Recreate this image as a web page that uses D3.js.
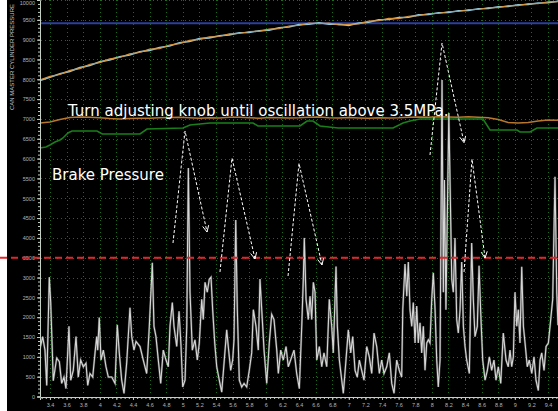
<!DOCTYPE html>
<html>
<head>
<meta charset="utf-8">
<script src="https://cdn.jsdelivr.net/npm/d3@7"></script>
<style>
html, body { margin: 0; padding: 0; background: #000; }
svg { display: block; }
</style>
</head>
<body>
<svg id="chart"></svg>
<script>
let width = 558, height = 411;

// tick values / labels
let xTicks = [3.4, 3.6, 3.8, 4, 4.2, 4.4, 4.6, 4.8, 5, 5.2, 5.4, 5.6, 5.8, 6, 6.2, 6.4, 6.6, 6.8, 7, 7.2, 7.4, 7.6, 7.8, 8, 8.2, 8.4, 8.6, 8.8, 9, 9.2, 9.4];
let yTicks = [0, 500, 1000, 1500, 2000, 2500, 3000, 3500, 4000, 4500, 5000, 5500, 6000, 6500, 7000, 7500, 8000, 8500, 9000, 9500, 10000];

// rising master cylinder traces (sampled every 0.12 s)
let masterTime = [3.28, 3.40, 3.52, 3.64, 3.76, 3.88, 4.00, 4.12, 4.24, 4.36, 4.48, 4.60, 4.72, 4.84, 4.96, 5.08, 5.20, 5.32, 5.44, 5.56, 5.68, 5.80, 5.92, 6.04, 6.16, 6.28, 6.40, 6.52, 6.64, 6.76, 6.88, 7.00, 7.12, 7.24, 7.36, 7.48, 7.60, 7.72, 7.84, 7.96, 8.08, 8.20, 8.32, 8.44, 8.56, 8.68, 8.80, 8.92, 9.04, 9.16, 9.28, 9.40, 9.52];
let masterOrange = [7982, 8075, 8120, 8225, 8270, 8380, 8420, 8515, 8550, 8640, 8675, 8760, 8775, 8865, 8900, 8980, 9005, 9070, 9080, 9145, 9155, 9205, 9210, 9265, 9280, 9345, 9360, 9420, 9405, 9415, 9370, 9385, 9400, 9465, 9480, 9535, 9530, 9590, 9605, 9660, 9660, 9710, 9710, 9760, 9760, 9810, 9810, 9860, 9860, 9910, 9905, 9955, 9960];
let masterCyan = [7970, 8050, 8140, 8200, 8295, 8350, 8445, 8490, 8570, 8615, 8695, 8730, 8800, 8840, 8920, 8955, 9025, 9045, 9100, 9120, 9175, 9180, 9225, 9240, 9300, 9320, 9380, 9390, 9425, 9390, 9390, 9360, 9420, 9440, 9500, 9510, 9555, 9565, 9625, 9635, 9680, 9685, 9730, 9735, 9780, 9785, 9830, 9835, 9880, 9885, 9925, 9930, 9970];
let flatOrange = [6898, 6923, 6985, 7035, 7049, 7045, 7030, 7010, 6999, 7010, 7015, 7020, 7030, 7035, 7045, 7030, 7020, 7030, 7025, 7040, 7045, 7030, 7020, 7035, 7030, 7025, 7030, 7045, 7050, 7030, 7025, 7035, 7025, 7020, 7030, 7025, 7030, 7045, 7050, 7045, 7055, 7050, 7045, 7055, 7040, 7030, 6985, 6910, 6895, 6910, 6950, 6975, 6970];

// green step trace
let greenTime = [3.28, 3.352, 3.400, 3.461, 3.521, 3.557, 3.617, 3.666, 3.967, 4.03, 4.485, 4.569, 5.003, 5.087, 5.328, 5.846, 5.906, 6.412, 6.497, 6.569, 6.653, 6.870, 7.533, 7.653, 7.737, 7.858, 8.617, 8.701, 9.026, 9.062, 9.183, 9.267, 9.52];
let greenKpa = [6267, 6293, 6343, 6419, 6469, 6520, 6646, 6696, 6696, 6620, 6620, 6746, 6772, 6847, 6898, 6898, 6822, 6822, 6948, 6948, 6822, 6772, 6772, 6898, 6948, 6999, 6999, 6721, 6721, 6671, 6671, 6772, 6772];

let bluePressure = 9412;
let threshold = 3500;

// brake pressure [time s, kPa]
let brakePressure = [
  [3.28,1200],[3.312,1510],[3.340,1170],[3.361,280],[3.392,3010],[3.409,2370],[3.440,400],[3.481,970],[3.513,880],[3.541,330],
  [3.569,490],[3.593,200],[3.629,1770],[3.650,410],[3.681,660],[3.714,1510],[3.741,490],[3.770,920],[3.802,750],[3.834,840],
  [3.855,280],[3.882,580],[3.915,490],[3.943,1100],[3.963,1510],[3.975,1170],[3.994,1990],[4.015,920],[4.043,1170],[4.075,750],
  [4.103,490],[4.144,490],[4.184,330],[4.211,1810],[4.235,1100],[4.264,410],[4.292,80],[4.324,840],[4.364,2240],[4.385,1510],
  [4.412,1170],[4.437,1390],[4.485,1260],[4.524,920],[4.565,580],[4.597,1770],[4.633,3370],[4.653,1770],[4.677,1510],[4.705,920],
  [4.734,330],[4.765,1170],[4.798,920],[4.826,750],[4.846,1770],[4.874,2370],[4.894,1770],[4.927,1260],[4.955,2150],[4.979,1260],
  [4.999,240],[5.027,410],[5.048,1770],[5.067,5760],[5.087,2630],[5.115,1170],[5.147,1430],[5.175,920],[5.199,1350],[5.228,2450],
  [5.247,1940],[5.268,2880],[5.295,2630],[5.319,2960],[5.340,3010],[5.360,2190],[5.385,1350],[5.409,750],[5.440,410],[5.469,110],
  [5.497,840],[5.529,1680],[5.548,1260],[5.577,660],[5.601,920],[5.617,1430],[5.638,4450],[5.657,2190],[5.681,410],[5.710,240],
  [5.738,330],[5.770,240],[5.801,660],[5.830,1100],[5.850,2190],[5.882,1770],[5.910,1170],[5.930,2960],[5.951,2190],[5.979,1170],
  [6.011,330],[6.042,1350],[6.071,2070],[6.099,1940],[6.132,1170],[6.151,580],[6.180,1170],[6.211,920],[6.244,1260],[6.271,750],
  [6.312,1000],[6.340,1170],[6.372,580],[6.404,200],[6.433,1770],[6.452,2960],[6.464,4000],[6.485,2450],[6.512,1940],[6.533,2530],
  [6.553,1940],[6.573,2880],[6.593,2630],[6.614,920],[6.645,1260],[6.674,750],[6.701,1100],[6.734,750],[6.765,2450],[6.794,1770],
  [6.813,1100],[6.846,3280],[6.862,1770],[6.886,920],[6.915,410],[6.934,80],[6.963,840],[6.994,1680],[7.023,1100],[7.047,1510],
  [7.075,660],[7.102,490],[7.127,920],[7.155,660],[7.183,410],[7.216,1260],[7.247,1000],[7.276,580],[7.304,1600],[7.336,1260],
  [7.368,580],[7.396,920],[7.424,580],[7.457,750],[7.488,1100],[7.517,330],[7.545,80],[7.577,920],[7.608,660],[7.637,490],
  [7.650,2190],[7.677,3340],[7.698,2530],[7.717,3390],[7.737,2190],[7.758,1770],[7.777,2370],[7.798,1350],[7.818,2280],[7.837,1350],
  [7.858,1860],[7.878,1100],[7.898,1770],[7.918,660],[7.939,1350],[7.958,1430],[7.978,1350],[7.999,2450],[8.018,3120],[8.039,2190],
  [8.059,920],[8.078,240],[8.099,920],[8.123,7980],[8.139,2630],[8.152,5460],[8.170,2190],[8.205,7150],[8.240,2960],[8.259,2630],
  [8.279,4000],[8.300,1940],[8.319,1600],[8.340,2190],[8.360,3390],[8.380,1770],[8.400,1260],[8.420,920],[8.452,580],[8.480,3870],
  [8.500,2450],[8.520,1510],[8.548,1770],[8.569,3300],[8.589,2120],[8.613,920],[8.641,410],[8.669,660],[8.693,1000],[8.721,660],
  [8.749,920],[8.773,410],[8.801,750],[8.830,330],[8.861,1600],[8.894,920],[8.921,750],[8.942,1170],[8.962,750],[8.982,1000],
  [9.002,2630],[9.023,1770],[9.042,2190],[9.062,1350],[9.083,3270],[9.103,1770],[9.123,1350],[9.150,750],[9.174,920],[9.204,580],
  [9.231,1000],[9.255,410],[9.283,150],[9.304,920],[9.324,1100],[9.352,660],[9.376,1260],[9.404,1350],[9.424,1770],[9.456,2450],
  [9.484,5540],[9.505,2630],[9.52,1800]
];

// annotation arrows (start, peak, arrow end)
let arrows = [
  [[4.882, 3871], [5.027, 6696], [5.292, 4149]],
  [[5.448, 3140], [5.593, 6015], [5.870, 3468]],
  [[6.268, 3039], [6.400, 5881], [6.677, 3317]],
  [[7.978, 6091], [8.123, 8916], [8.388, 6401]],
  [[8.388, 3140], [8.484, 5990], [8.641, 3493]]
];
let notes = [
  {t: 3.617, v: 7074, text: "Turn adjusting knob until oscillation above 3.5MPa."},
  {t: 3.425, v: 5460, text: "Brake Pressure"}
];

let svg = d3.select("#chart")
  .attr("width", width)
  .attr("height", height);

svg.append("rect").attr("width", width).attr("height", height).attr("fill", "#000");
svg.append("rect").attr("width", 7).attr("height", height).attr("fill", "#fff");

let xax = d3.scaleLinear().domain([3.28, 9.52]).range([40, 558]);
let yax = d3.scaleLinear().domain([0, 10000]).range([396.5, 0]);

svg.append("clipPath").attr("id", "plot")
  .append("rect").attr("x", 40).attr("y", 0).attr("width", 518).attr("height", 397);

// grid
let grid = svg.append("g").attr("stroke", "#1b6e1b").attr("stroke-width", 1).attr("stroke-dasharray", "1,3");
grid.selectAll("line.v")
  .data(xTicks)
  .join("line")
    .attr("class", "v")
    .attr("x1", d => Math.round(xax(d)) + 0.5)
    .attr("x2", d => Math.round(xax(d)) + 0.5)
    .attr("y1", 0).attr("y2", 396);
grid.selectAll("line.h")
  .data(yTicks.slice(1))
  .join("line")
    .attr("class", "h")
    .attr("x1", 41).attr("x2", width)
    .attr("y1", d => Math.round(yax(d)) + 0.5)
    .attr("y2", d => Math.round(yax(d)) + 0.5);

let plot = svg.append("g").attr("clip-path", "url(#plot)");

let linegen = d3.line()
  .x(d => xax(d[0]))
  .y(d => yax(d[1]));

// blue reference line
plot.append("line")
  .attr("x1", 40).attr("x2", width)
  .attr("y1", yax(bluePressure)).attr("y2", yax(bluePressure))
  .attr("stroke", "#2b3f9c").attr("stroke-width", 2);

plot.append("path")
  .attr("d", linegen(masterTime.map((t, i) => [t, masterCyan[i]])))
  .attr("stroke", "#8fc8dc").attr("stroke-width", 1.6).attr("fill", "none");
plot.append("path")
  .attr("d", linegen(masterTime.map((t, i) => [t, masterOrange[i]])))
  .attr("stroke", "#d8933a").attr("stroke-width", 1.2).attr("fill", "none");

plot.append("path")
  .attr("d", linegen(masterTime.map((t, i) => [t, flatOrange[i]])))
  .attr("stroke", "#b8772c").attr("stroke-width", 1.5).attr("fill", "none");

plot.append("path")
  .attr("d", linegen(greenTime.map((t, i) => [t, greenKpa[i]])))
  .attr("stroke", "#1a7f1a").attr("stroke-width", 1.6).attr("fill", "none");

// brake pressure trace
plot.append("path")
  .attr("d", linegen(brakePressure))
  .attr("stroke", "#8a8a8a").attr("stroke-width", 2.2).attr("stroke-opacity", 0.5).attr("fill", "none");
plot.append("path")
  .attr("d", linegen(brakePressure))
  .attr("stroke", "#d6d6d6").attr("stroke-width", 1.1).attr("fill", "none");

// axes
let axisColor = "#c4d0c4";
let yAxis = svg.append("g").attr("transform", "translate(40,0)")
  .call(d3.axisLeft(yax).tickValues(yTicks).tickSize(3).tickPadding(2).tickFormat(d3.format("d")));
svg.append("g").attr("transform", "translate(40,0)")
  .call(d3.axisLeft(yax).tickValues(d3.range(0, 10001, 100)).tickSize(2).tickFormat(""))
  .call(g => g.select(".domain").remove());
yAxis.selectAll("text")
  .attr("fill", "#b4b4b4")
  .style("font", "5.5px 'Liberation Sans', Arial, sans-serif")
  .attr("dy", d => d === 10000 ? "0.9em" : "0.32em");

let xAxis = svg.append("g").attr("transform", "translate(0,397)")
  .call(d3.axisBottom(xax).tickValues(xTicks).tickSize(3).tickPadding(3).tickFormat(d3.format("~g")));
svg.append("g").attr("transform", "translate(0,397)")
  .call(d3.axisBottom(xax).tickValues(d3.range(3.3, 9.52, 0.05)).tickSize(2).tickFormat(""))
  .call(g => g.select(".domain").remove());
xAxis.selectAll("text")
  .attr("fill", "#b4b4b4")
  .style("font", "5.5px 'Liberation Sans', Arial, sans-serif");

svg.selectAll(".domain").attr("stroke", axisColor);
svg.selectAll(".tick line").attr("stroke", axisColor);

svg.append("text")
  .attr("transform", "translate(14,57) rotate(-90)")
  .attr("text-anchor", "middle")
  .attr("fill", "#c8c8c8")
  .style("font", "6px 'Liberation Sans', Arial, sans-serif")
  .text("CAN MASTER CYLINDER PRESSURE");

// threshold
svg.append("line")
  .attr("x1", 0).attr("x2", width)
  .attr("y1", yax(threshold)).attr("y2", yax(threshold))
  .attr("stroke", "#e3262b").attr("stroke-width", 2).attr("stroke-dasharray", "7,4");

// arrows
let ann = svg.append("g").attr("stroke", "#fff").attr("fill", "none").attr("stroke-width", 1);
arrows.forEach(a => {
  ann.append("path")
    .attr("d", linegen(a))
    .attr("stroke-dasharray", "3,2");
  let px = xax(a[2][0]), py = yax(a[2][1]);
  let ang = Math.atan2(py - yax(a[1][1]), px - xax(a[1][0]));
  let len = 7, spread = 0.45;
  ann.append("path")
    .attr("d", `M${px - len * Math.cos(ang - spread)},${py - len * Math.sin(ang - spread)}L${px},${py}L${px - len * Math.cos(ang + spread)},${py - len * Math.sin(ang + spread)}`);
});

svg.selectAll("text.note")
  .data(notes)
  .join("text")
    .attr("class", "note")
    .attr("x", d => xax(d.t))
    .attr("y", d => yax(d.v))
    .attr("fill", "#fff")
    .style("font", "15px 'DejaVu Sans', sans-serif")
    .text(d => d.text);
</script>
</body>
</html>
